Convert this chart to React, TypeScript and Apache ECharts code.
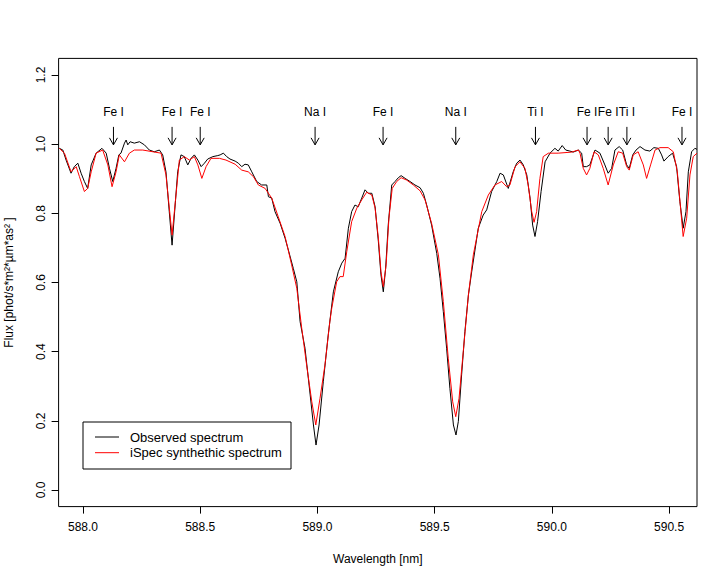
import React, { useEffect, useRef } from "react";
import * as echarts from "echarts";

const FONT = '"Liberation Sans", Arial, Helvetica, sans-serif';

// Observed spectrum
const obsWave = [
  587.899, 587.914, 587.928, 587.949, 587.963, 587.978, 587.992, 588.006, 588.02, 588.035,
  588.056, 588.081, 588.099, 588.113, 588.127, 588.141, 588.153, 588.162, 588.177, 588.184,
  588.191, 588.201, 588.219, 588.241, 588.262, 588.283, 588.304, 588.326, 588.34, 588.354,
  588.368, 588.38, 588.391, 588.404, 588.418, 588.432, 588.447, 588.461, 588.475, 588.49,
  588.504, 588.518, 588.532, 588.554, 588.575, 588.585, 588.599, 588.613, 588.627, 588.649,
  588.663, 588.677, 588.691, 588.705, 588.72, 588.741, 588.762, 588.784, 588.791, 588.805,
  588.819, 588.841, 588.862, 588.876, 588.897, 588.912, 588.926, 588.947, 588.969, 588.983,
  588.994, 589.007, 589.025, 589.046, 589.068, 589.089, 589.104, 589.118, 589.132, 589.146,
  589.16, 589.174, 589.189, 589.203, 589.217, 589.232, 589.246, 589.26, 589.271, 589.281,
  589.291, 589.302, 589.317, 589.331, 589.345, 589.357, 589.374, 589.395, 589.416, 589.438,
  589.452, 589.466, 589.487, 589.509, 589.523, 589.537, 589.551, 589.565, 589.58, 589.591,
  589.601, 589.615, 589.629, 589.644, 589.658, 589.672, 589.686, 589.707, 589.722, 589.743,
  589.765, 589.779, 589.793, 589.814, 589.835, 589.85, 589.864, 589.878, 589.893, 589.907,
  589.918, 589.928, 589.939, 589.954, 589.971, 589.992, 590.013, 590.027, 590.044, 590.059,
  590.077, 590.091, 590.113, 590.127, 590.134, 590.148, 590.162, 590.184, 590.205, 590.226,
  590.24, 590.255, 590.269, 590.287, 590.302, 590.319, 590.33, 590.345, 590.359, 590.376,
  590.397, 590.418, 590.435, 590.454, 590.468, 590.478, 590.496, 590.515, 590.532, 590.546,
  590.56, 590.572, 590.582, 590.596, 590.61, 590.619,
];
const obsFlux = [
  0.988, 0.983, 0.954, 0.916, 0.935, 0.945, 0.916, 0.892, 0.872, 0.94,
  0.974, 0.988, 0.974, 0.93, 0.892, 0.93, 0.969, 0.974, 1.003, 1.012,
  0.998, 1.007, 1.003, 1.007, 0.998, 0.983, 0.978, 0.983, 0.969, 0.92,
  0.805, 0.708, 0.805, 0.92, 0.969, 0.964, 0.94, 0.959, 0.969, 0.954,
  0.935, 0.945, 0.957, 0.964, 0.967, 0.969, 0.974, 0.964, 0.957, 0.951,
  0.945, 0.935, 0.942, 0.94, 0.92, 0.892, 0.882, 0.882, 0.848, 0.844,
  0.805, 0.771, 0.728, 0.694, 0.641, 0.602, 0.487, 0.41, 0.275, 0.188,
  0.13, 0.188, 0.313, 0.448, 0.573, 0.631, 0.656, 0.67, 0.757, 0.805,
  0.824, 0.819, 0.844, 0.868, 0.858, 0.858, 0.819, 0.718, 0.622, 0.573,
  0.641, 0.766, 0.882, 0.892, 0.903, 0.909, 0.901, 0.892, 0.882, 0.874,
  0.858, 0.824, 0.766, 0.684, 0.612, 0.516, 0.41, 0.294, 0.188, 0.159,
  0.198, 0.333, 0.458, 0.564, 0.631, 0.694, 0.757, 0.795, 0.81, 0.863,
  0.892, 0.916, 0.911, 0.872, 0.92, 0.945, 0.954, 0.94, 0.911, 0.844,
  0.766, 0.733, 0.776, 0.863, 0.949, 0.974, 0.988, 0.98, 0.996, 0.983,
  0.98, 0.977, 0.983, 0.974, 0.935, 0.935, 0.94, 0.983, 0.974, 0.94,
  0.916, 0.93, 0.983, 0.993, 0.983, 0.94, 0.93, 0.969, 0.983, 0.993,
  0.983, 0.98, 0.99, 0.988, 0.969, 0.951, 0.964, 0.974, 0.935, 0.834,
  0.757, 0.805, 0.92, 0.978, 0.988, 0.985,
];

// iSpec synthetic spectrum
const synWave = [
  587.899, 587.921, 587.949, 587.971, 587.985, 588.006, 588.02, 588.035, 588.056, 588.084,
  588.106, 588.124, 588.141, 588.155, 588.177, 588.198, 588.219, 588.255, 588.298, 588.333,
  588.354, 588.38, 588.394, 588.411, 588.432, 588.454, 588.475, 588.49, 588.507, 588.525,
  588.546, 588.582, 588.61, 588.649, 588.677, 588.705, 588.727, 588.748, 588.777, 588.805,
  588.833, 588.862, 588.89, 588.912, 588.933, 588.954, 588.976, 588.993, 589.011, 589.032,
  589.053, 589.061, 589.082, 589.096, 589.11, 589.125, 589.146, 589.168, 589.189, 589.21,
  589.232, 589.246, 589.26, 589.271, 589.281, 589.293, 589.305, 589.319, 589.338, 589.357,
  589.381, 589.409, 589.438, 589.459, 589.487, 589.516, 589.537, 589.558, 589.577, 589.59,
  589.604, 589.622, 589.644, 589.665, 589.701, 589.729, 589.757, 589.786, 589.807, 589.821,
  589.843, 589.864, 589.885, 589.899, 589.914, 589.924, 589.935, 589.949, 589.963, 589.985,
  590.027, 590.084, 590.113, 590.12, 590.134, 590.148, 590.162, 590.18, 590.198, 590.219,
  590.24, 590.262, 590.283, 590.302, 590.319, 590.33, 590.347, 590.368, 590.39, 590.404,
  590.421, 590.44, 590.461, 590.496, 590.518, 590.535, 590.549, 590.56, 590.575, 590.589,
  590.603, 590.619,
];
const synFlux = [
  0.988, 0.974, 0.92, 0.935, 0.906, 0.863, 0.872, 0.92, 0.974, 0.983,
  0.94, 0.877, 0.92, 0.969, 0.949, 0.974, 0.983, 0.983, 0.978, 0.974,
  0.911, 0.737, 0.834, 0.954, 0.964, 0.954, 0.964, 0.94, 0.901, 0.935,
  0.959, 0.959, 0.954, 0.942, 0.925, 0.92, 0.906, 0.882, 0.872, 0.844,
  0.79, 0.733, 0.651, 0.583, 0.468, 0.361, 0.255, 0.188, 0.265, 0.361,
  0.487, 0.525, 0.602, 0.617, 0.617, 0.689, 0.776, 0.815, 0.839, 0.861,
  0.853, 0.815, 0.728, 0.631, 0.588, 0.651, 0.786, 0.872, 0.892, 0.903,
  0.896, 0.882, 0.865, 0.839, 0.771, 0.68, 0.545, 0.381, 0.255, 0.212,
  0.265, 0.4, 0.564, 0.68, 0.805, 0.853, 0.882, 0.892, 0.877, 0.882,
  0.935, 0.949, 0.93, 0.882, 0.805, 0.774, 0.805, 0.901, 0.964, 0.974,
  0.974, 0.977, 0.983, 0.974, 0.93, 0.911, 0.93, 0.978, 0.969, 0.93,
  0.882, 0.94, 0.978, 0.974, 0.935, 0.925, 0.969, 0.978, 0.94, 0.901,
  0.94, 0.983, 0.99, 0.99, 0.978, 0.92, 0.815, 0.733, 0.786, 0.911,
  0.964, 0.974,
];

// Line identifications
const lineWave = [588.13, 588.38, 588.5, 588.99, 589.28, 589.59, 589.93, 590.15, 590.24, 590.32, 590.555];
const lineLabel = ["Fe I", "Fe I", "Fe I", "Na I", "Fe I", "Na I", "Ti I", "Fe I", "Fe I", "Ti I", "Fe I"];
const ARROW_TOP = 1.05;
const ARROW_TIP = 0.998;
const LABEL_LEVEL = 1.093;

// Axes
const xTicks = [588.0, 588.5, 589.0, 589.5, 590.0, 590.5];
const yTicks = [0.0, 0.2, 0.4, 0.6, 0.8, 1.0, 1.2];
const X_MIN = 587.896;
const X_MAX = 590.619;
const Y_MIN = -0.048;
const Y_MAX = 1.248;

const OBS_NAME = "Observed spectrum";
const SYN_NAME = "iSpec synthethic spectrum";
const legendNames = [OBS_NAME, SYN_NAME];
const legendColors = ["#000000", "#ff0000"];

export default function App() {
  const ref = useRef<HTMLDivElement>(null);

  useEffect(() => {
    if (!ref.current) return;
    const chart = echarts.init(ref.current, null, { renderer: "svg" });
    const obsData = obsWave.map((w, i) => [w, obsFlux[i]]);
    const synData = synWave.map((w, i) => [w, synFlux[i]]);
    const idData = lineWave.map((w) => [w, ARROW_TIP]);

    // legend box drawn as graphic (R style)
    const LX = 83;
    const LY = 422;
    const legendChildren: any[] = [
      {
        type: "rect",
        shape: { x: LX, y: LY, width: 208, height: 47 },
        style: { fill: "#fff", stroke: "#000", lineWidth: 1 },
      },
    ];
    legendNames.forEach((name, i) => {
      const cy = LY + 15 + i * 15.7;
      legendChildren.push({
        type: "line",
        shape: { x1: LX + 12, y1: cy, x2: LX + 36, y2: cy },
        style: { stroke: legendColors[i], lineWidth: 1 },
      });
      legendChildren.push({
        type: "text",
        x: LX + 47,
        y: cy,
        style: {
          text: name,
          fill: "#000",
          fontSize: 13,
          fontFamily: FONT,
          align: "left",
          verticalAlign: "middle",
        },
      });
    });

    chart.setOption({
      animation: false,
      backgroundColor: "#ffffff",
      textStyle: { fontFamily: FONT, color: "#000" },
      grid: {
        left: 58.6,
        right: 30,
        top: 58.4,
        bottom: 74.4,
        show: true,
        containLabel: false,
        outerBoundsMode: "none",
        borderColor: "#000",
        borderWidth: 1,
        backgroundColor: "transparent",
      },
      xAxis: {
        type: "value",
        min: X_MIN,
        max: X_MAX,
        name: "Wavelength [nm]",
        nameLocation: "middle",
        nameGap: 46,
        nameTextStyle: { fontSize: 12, fontFamily: FONT, color: "#000" },
        axisLine: { show: false, onZero: false },
        splitLine: { show: false },
        axisTick: {
          show: true,
          customValues: xTicks,
          length: 7,
          inside: false,
          lineStyle: { color: "#000", width: 1 },
        },
        axisLabel: {
          customValues: xTicks,
          formatter: (v: number) => v.toFixed(1),
          fontSize: 12,
          fontFamily: FONT,
          color: "#000",
          margin: 14,
        },
      },
      yAxis: {
        type: "value",
        min: Y_MIN,
        max: Y_MAX,
        name: "Flux [phot/s*m²*µm*as² ]",
        nameLocation: "middle",
        nameRotate: 90,
        nameGap: 44,
        nameTextStyle: { fontSize: 12, fontFamily: FONT, color: "#000" },
        axisLine: { show: false, onZero: false },
        splitLine: { show: false },
        axisTick: {
          show: true,
          customValues: yTicks,
          length: 7,
          inside: false,
          lineStyle: { color: "#000", width: 1 },
        },
        axisLabel: {
          customValues: yTicks,
          formatter: (v: number) => v.toFixed(1),
          rotate: 90,
          fontSize: 12,
          fontFamily: FONT,
          color: "#000",
          margin: 12,
        },
      },
      graphic: [{ type: "group", z: 100, children: legendChildren }],
      series: [
        {
          name: OBS_NAME,
          type: "line",
          data: obsData,
          symbol: "none",
          showSymbol: false,
          lineStyle: { color: "#000", width: 1 },
          itemStyle: { color: "#000" },
          z: 3,
        },
        {
          name: SYN_NAME,
          type: "line",
          data: synData,
          symbol: "none",
          showSymbol: false,
          lineStyle: { color: "#ff0000", width: 1 },
          itemStyle: { color: "#ff0000" },
          z: 4,
        },
        {
          name: "identifications",
          type: "custom",
          data: idData,
          silent: true,
          z: 5,
          renderItem: (params: any, api: any) => {
            const w = api.value(0);
            const top = api.coord([w, ARROW_TOP]);
            const tip = api.coord([w, ARROW_TIP]);
            const lab = api.coord([w, LABEL_LEVEL]);
            return {
              type: "group",
              children: [
                {
                  type: "line",
                  shape: { x1: tip[0], y1: top[1], x2: tip[0], y2: tip[1] },
                  style: { stroke: "#000", lineWidth: 1 },
                },
                {
                  type: "polyline",
                  shape: {
                    points: [
                      [tip[0] - 4, tip[1] - 7],
                      [tip[0], tip[1]],
                      [tip[0] + 4, tip[1] - 7],
                    ],
                  },
                  style: { stroke: "#000", fill: null, lineWidth: 1 },
                },
                {
                  type: "text",
                  x: lab[0],
                  y: lab[1],
                  style: {
                    text: lineLabel[params.dataIndex],
                    fill: "#000",
                    fontSize: 12,
                    fontFamily: FONT,
                    align: "center",
                    verticalAlign: "middle",
                  },
                },
              ],
            };
          },
        },
      ],
    });

    return () => {
      chart.dispose();
    };
  }, []);

  return (
    <div
      ref={ref}
      style={{ position: "absolute", left: 0, top: 0, width: 727, height: 581, background: "#fff" }}
    />
  );
}
